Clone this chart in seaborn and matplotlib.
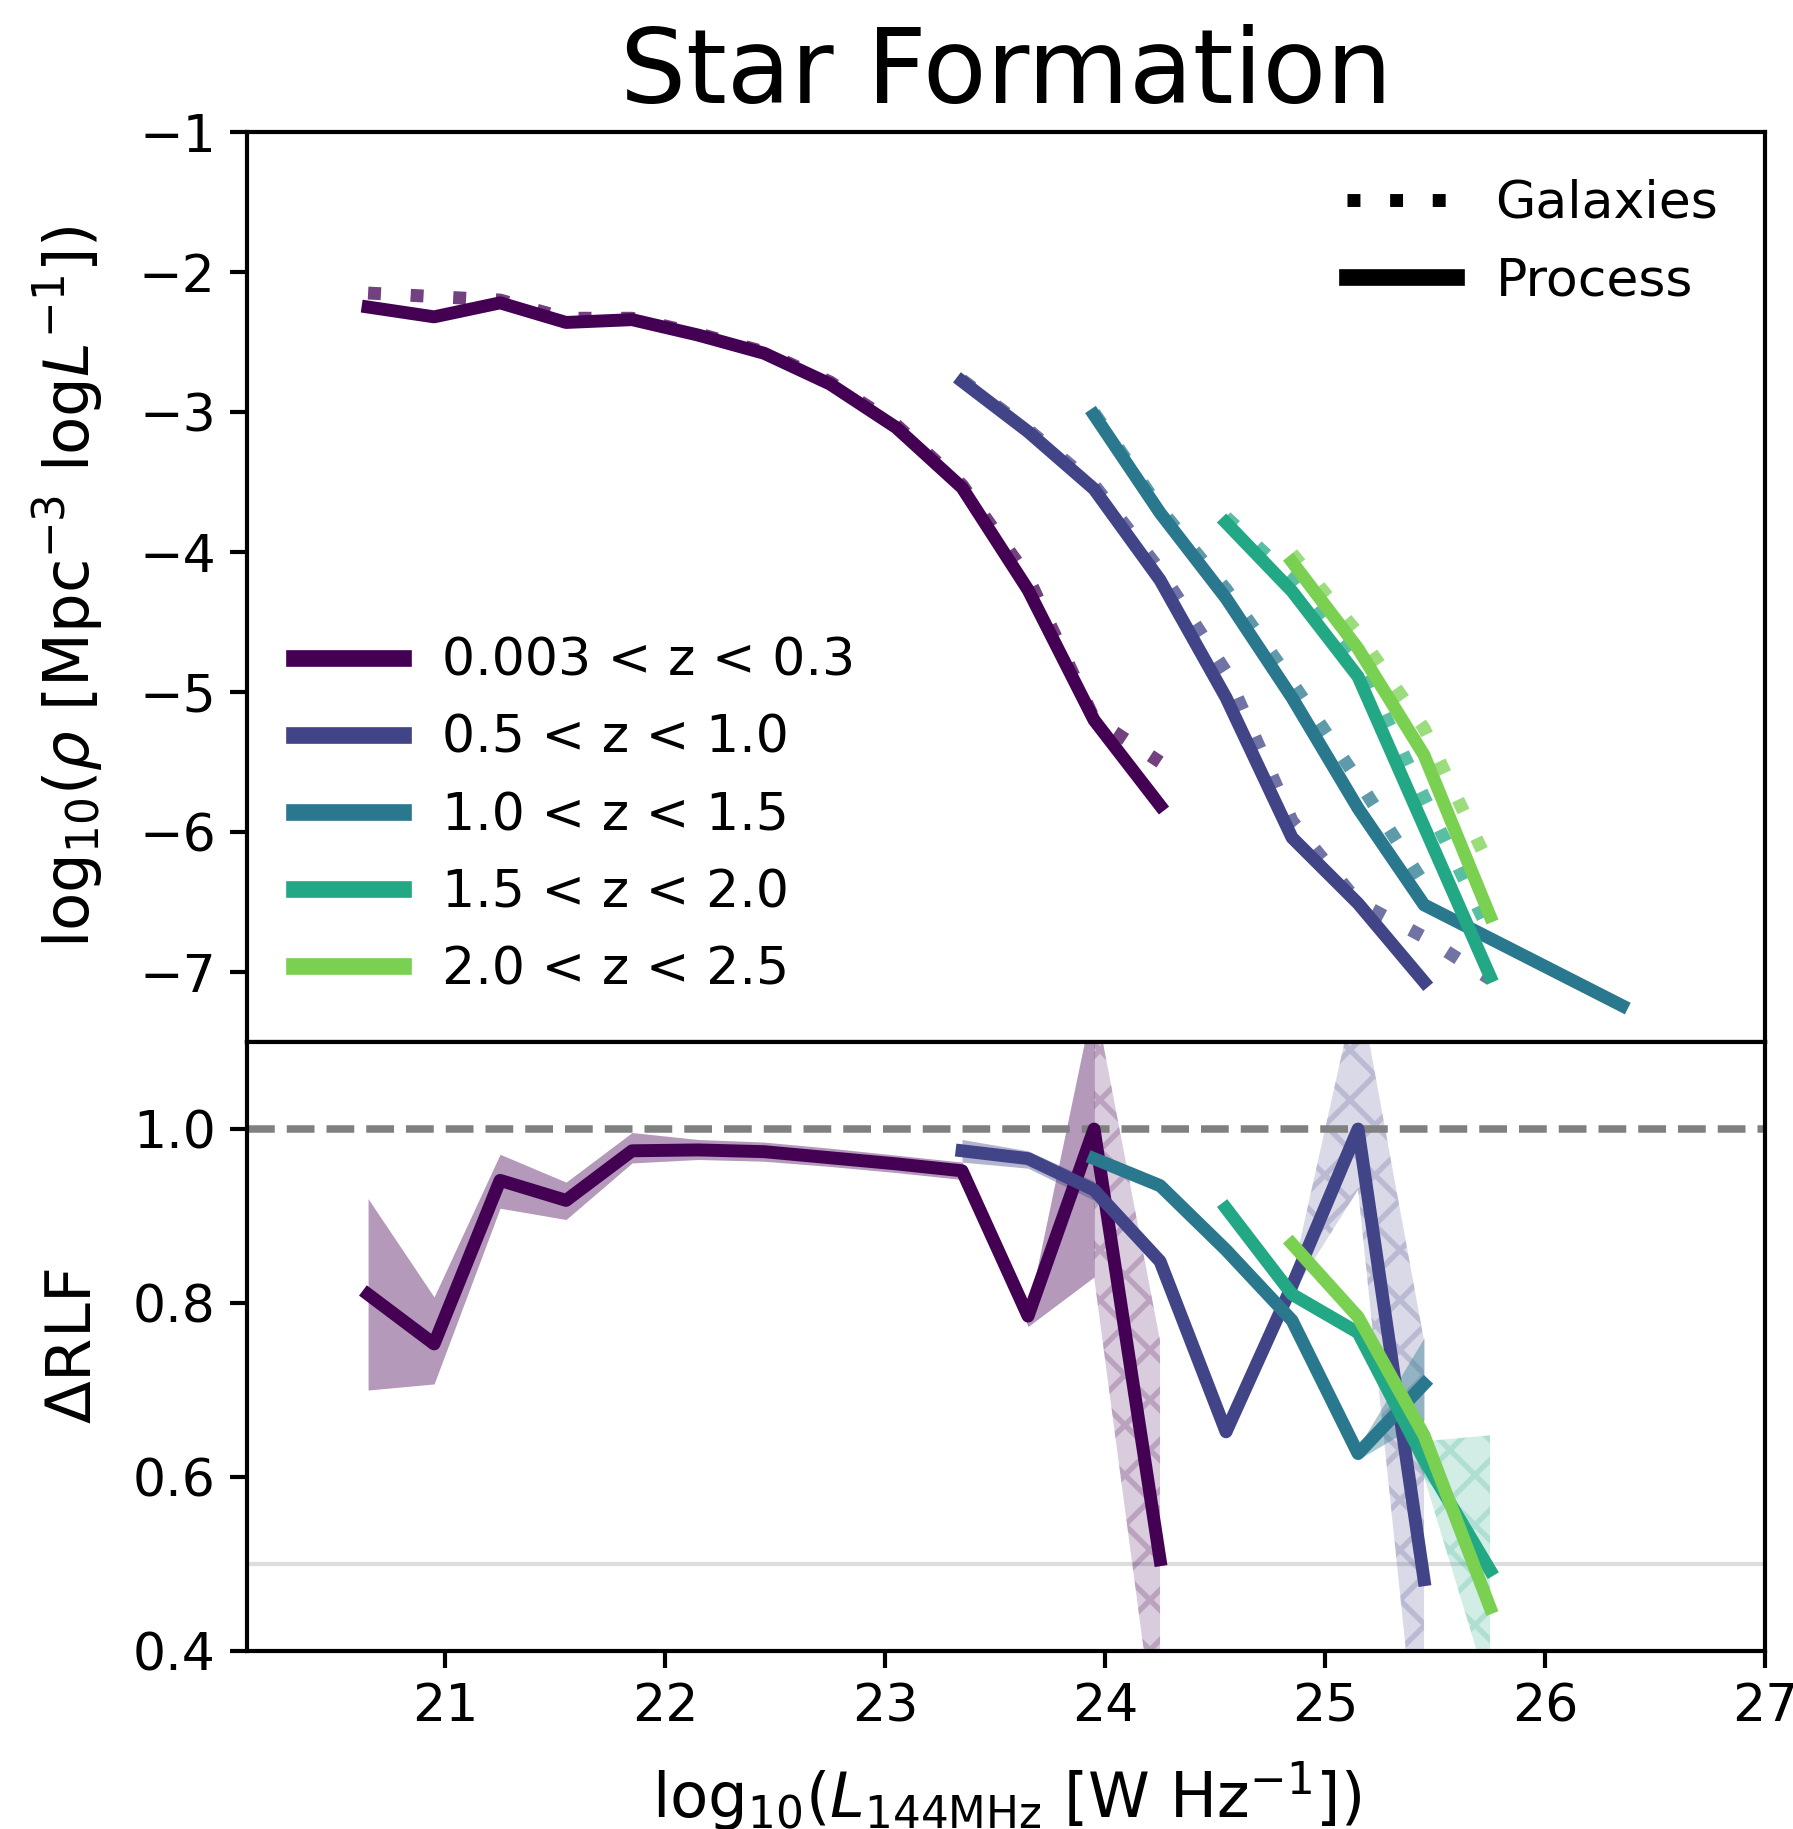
import matplotlib
matplotlib.use("Agg")
import matplotlib.pyplot as plt
import seaborn as sns
from matplotlib.lines import Line2D

# ---------------- data ----------------
# 0.003 < z < 0.3
lum_z1 = [20.65, 20.95, 21.25, 21.55, 21.85, 22.15, 22.45, 22.75, 23.05, 23.35, 23.65, 23.95, 24.25]
proc_z1 = [-2.25, -2.32, -2.22, -2.36, -2.34, -2.45, -2.58, -2.80, -3.11, -3.54, -4.27, -5.20, -5.81]
gal_z1 = [-2.15, -2.175, -2.20, -2.33, -2.33, -2.44, -2.57, -2.785, -3.09, -3.52, -4.18, -5.19, -5.50]
ratio_z1 = [0.81, 0.753, 0.941, 0.918, 0.975, 0.976, 0.974, 0.967, 0.960, 0.952, 0.785, 1.0, 0.505]
lo_z1 = [0.70, 0.707, 0.909, 0.896, 0.961, 0.965, 0.963, 0.957, 0.950, 0.942, 0.773, 0.83, 0.26]
hi_z1 = [0.92, 0.807, 0.971, 0.939, 0.996, 0.988, 0.985, 0.978, 0.970, 0.962, 0.79, 1.153, 0.757]

# 0.5 < z < 1.0
lum_z2 = [23.35, 23.65, 23.95, 24.25, 24.55, 24.85, 25.15, 25.45]
proc_z2 = [-2.78, -3.14, -3.55, -4.20, -5.04, -6.04, -6.51, -7.07]
lum_gal_z2 = [23.35, 23.65, 23.95, 24.25, 24.55, 24.85, 25.15, 25.45, 25.75]
gal_z2 = [-2.77, -3.125, -3.52, -4.13, -4.855, -5.92, -6.50, -6.75, -7.05]
ratio_z2 = [0.975, 0.966, 0.93, 0.848, 0.652, 0.82, 1.0, 0.482]
lo_z2 = [0.962, 0.955, 0.918, 0.838, 0.645, 0.81, 0.93, 0.20]
hi_z2 = [0.988, 0.975, 0.94, 0.856, 0.66, 0.83, 1.17, 0.757]

# 1.0 < z < 1.5
lum_z3 = [23.95, 24.25, 24.55, 24.85, 25.15, 25.45, 25.75, 26.05, 26.35]
proc_z3 = [-3.02, -3.72, -4.33, -5.04, -5.83, -6.52, -6.76, -7.00, -7.24]
lum_gal_z3 = [23.95, 24.25, 24.55, 24.85, 25.15, 25.45]
gal_z3 = [-3.005, -3.69, -4.265, -4.93, -5.63, -6.37]
ratio_z3 = [0.966, 0.935, 0.861, 0.78, 0.627, 0.707]
lo_z3 = [0.958, 0.927, 0.853, 0.772, 0.620, 0.665]
hi_z3 = [0.974, 0.943, 0.869, 0.788, 0.634, 0.760]

# 1.5 < z < 2.0
lum_z4 = [24.55, 24.85, 25.15, 25.45, 25.75]
proc_z4 = [-3.79, -4.28, -4.89, -5.96, -7.03]
gal_z4 = [-3.75, -4.19, -4.77, -5.75, -6.72]
ratio_z4 = [0.909, 0.81, 0.766, 0.62, 0.493]
lo_z4 = [0.903, 0.803, 0.759, 0.60, 0.35]
hi_z4 = [0.915, 0.817, 0.773, 0.641, 0.648]

# 2.0 < z < 2.5
lum_z5 = [24.85, 25.15, 25.45, 25.75]
proc_z5 = [-4.07, -4.69, -5.45, -6.60]
gal_z5 = [-4.01, -4.58, -5.26, -6.25]
ratio_z5 = [0.868, 0.784, 0.648, 0.45]
lo_z5 = [0.865, 0.781, 0.645, 0.447]
hi_z5 = [0.871, 0.787, 0.651, 0.453]

z_labels = ["0.003 < z < 0.3", "0.5 < z < 1.0", "1.0 < z < 1.5",
            "1.5 < z < 2.0", "2.0 < z < 2.5"]
colors = ["#440154", "#414487", "#2a788e", "#22a884", "#7ad151"]

# bins from this index onwards get a hatched (low-completeness) band
hatch_from = [11, 5, None, 3, None]

# ---------------- style ----------------
sns.set_theme(style="ticks")
plt.rcParams["font.family"] = ["DejaVu Sans"]
plt.rcParams.update({
    "axes.linewidth": 1.0,
    "xtick.major.width": 1.0,
    "ytick.major.width": 1.0,
    "xtick.major.size": 4.0,
    "ytick.major.size": 4.0,
    "xtick.labelsize": 12.5,
    "ytick.labelsize": 12.5,
    "axes.edgecolor": "black",
    "axes.labelcolor": "black",
    "text.color": "black",
    "xtick.color": "black",
    "ytick.color": "black",
    "hatch.linewidth": 1.3,
    "lines.solid_capstyle": "projecting",
})

LW = 3.1
DOT = (0, (1, 2.3))

fig = plt.figure(figsize=(1793 / 300, 1829 / 300), dpi=300)
gs = fig.add_gridspec(2, 1, height_ratios=[910, 609], hspace=0,
                      left=0.1378, right=0.9844, top=0.9278, bottom=0.0973)
ax_top = fig.add_subplot(gs[0])
ax_bot = fig.add_subplot(gs[1], sharex=ax_top)

series = [
    (lum_z1, proc_z1, lum_z1, gal_z1, ratio_z1, lo_z1, hi_z1),
    (lum_z2, proc_z2, lum_gal_z2, gal_z2, ratio_z2, lo_z2, hi_z2),
    (lum_z3, proc_z3, lum_gal_z3, gal_z3, ratio_z3, lo_z3, hi_z3),
    (lum_z4, proc_z4, lum_z4, gal_z4, ratio_z4, lo_z4, hi_z4),
    (lum_z5, proc_z5, lum_z5, gal_z5, ratio_z5, lo_z5, hi_z5),
]

for (lum, proc, lum_gal, gal, ratio, lo, hi), col, hf in zip(series, colors, hatch_from):
    # luminosity functions
    sns.lineplot(x=lum_gal, y=gal, ax=ax_top, color=col, linewidth=LW,
                 linestyle=DOT, alpha=0.75, legend=False, sort=False, estimator=None)
    sns.lineplot(x=lum, y=proc, ax=ax_top, color=col, linewidth=LW,
                 legend=False, sort=False, estimator=None)

    # ratio with its uncertainty band
    n = len(ratio)
    x_r = lum[:n]
    end = n if hf is None else hf + 1
    ax_bot.fill_between(x_r[:end], lo[:end], hi[:end], color=col, alpha=0.4,
                        linewidth=0, zorder=1)
    if hf is not None:
        ax_bot.fill_between(x_r[hf:], lo[hf:], hi[hf:], facecolor=col,
                            edgecolor=col, alpha=0.2, hatch="xx", linewidth=0,
                            zorder=1)
    sns.lineplot(x=x_r, y=ratio, ax=ax_bot, color=col, linewidth=LW,
                 legend=False, sort=False, estimator=None, zorder=3)

ax_bot.axhline(1.0, color="gray", linestyle="--", linewidth=1.8, zorder=2)
ax_bot.axhline(0.5, color="#dddddd", linewidth=1.0, zorder=0.5)

# ---------------- axes ----------------
ax_top.set_xlim(20.1, 27.0)
ax_top.set_ylim(-7.5, -1)
ax_top.set_yticks([-7, -6, -5, -4, -3, -2, -1])
ax_top.tick_params(axis="x", bottom=False, labelbottom=False)
ax_bot.set_ylim(0.4, 1.1)
ax_bot.set_yticks([0.4, 0.6, 0.8, 1.0])
ax_bot.set_xticks([21, 22, 23, 24, 25, 26, 27])

ax_top.set_title("Star Formation", fontsize=25, pad=7)
ax_top.set_ylabel(r"$\mathrm{log}_{10}(\rho$ [Mpc$^{-3}$ $\mathrm{log}L^{-1}$])", fontsize=15)
ax_bot.set_ylabel(r"$\Delta$RLF", fontsize=15)
ax_bot.set_xlabel(r"$\mathrm{log}_{10}(L_{\mathrm{144MHz}}$ [W Hz$^{-1}$])",
                  fontsize=15, labelpad=6.5)
ax_top.yaxis.set_label_coords(-0.093, 0.5)
ax_bot.yaxis.set_label_coords(-0.094, 0.5)

# ---------------- legends ----------------
z_handles = [Line2D([], [], color=c, linewidth=4.0) for c in colors]
leg_z = ax_top.legend(z_handles, z_labels, loc="lower left", frameon=False,
                      fontsize=12.5, handlelength=2.1, handletextpad=0.75,
                      labelspacing=0.52)
ax_top.add_artist(leg_z)
type_handles = [Line2D([], [], color="black", linewidth=LW, linestyle=DOT),
                Line2D([], [], color="black", linewidth=4.0)]
ax_top.legend(type_handles, ["Galaxies", "Process"], loc="upper right",
              frameon=False, fontsize=12.5, handlelength=2.1,
              handletextpad=0.75, labelspacing=0.52)

fig.savefig("out.png", dpi=300)
